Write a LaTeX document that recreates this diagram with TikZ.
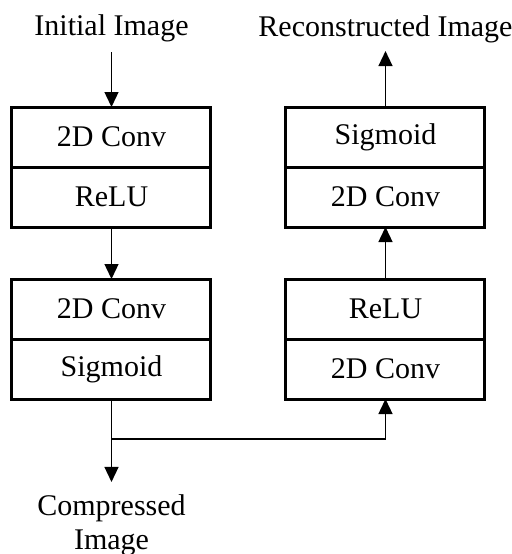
\documentclass[tikz,border=0pt]{standalone}
\usepackage{fontspec}
\setmainfont{Liberation Serif}
\usetikzlibrary{positioning,arrows.meta}

\begin{document}
\begin{tikzpicture}[cell/.style={draw,line width=1.5pt,minimum width=99.5pt,minimum height=30pt,inner sep=0pt,outer sep=0pt,font=\fontsize{15}{17}\selectfont},
	label/.style={align=center,inner sep=2pt,font=\fontsize{15}{17}\selectfont},
	flow/.style={line width=0.7pt,-{Triangle[width=7pt,length=7.5pt]}}]

	\useasboundingbox (0,0) rectangle (256pt,-277pt);

	% encoder
	\node[cell] (enc1) at (55.75pt,-68.5pt) {2D Conv};
	\node[cell, below=0pt of enc1] (enc2) {ReLU};
	\node[cell, below=26pt of enc2] (enc3) {2D Conv};
	\node[cell, below=0pt of enc3] (enc4) {Sigmoid};

	% decoder
	\node[cell] (dec4) at (192.75pt,-68.5pt) {Sigmoid};
	\node[cell, below=0pt of dec4] (dec3) {2D Conv};
	\node[cell, below=26pt of dec3] (dec2) {ReLU};
	\node[cell, below=0pt of dec2] (dec1) {2D Conv};

	\node[label] (input) at (55.75pt,-14pt) {Initial Image};
	\node[label] (output) at (192.75pt,-14.5pt) {Reconstructed Image};
	\node[label] (code) at (55.75pt,-262.5pt) {Compressed\\Image};

	\coordinate (split) at (55.75pt,-219.5pt);

	\path[flow] (input) edge [shorten <=3pt] (enc1);
	\path[flow] (enc2) edge (enc3);
	\draw[line width=0.7pt] (enc4) -- (split);
	\path[flow] (split) edge [shorten >=4pt] (code);
	\draw[flow] (split) -| (dec1);
	\path[flow] (dec2) edge (dec3);
	\path[flow] (dec4) edge [shorten >=2pt] (output);

\end{tikzpicture}
\end{document}
